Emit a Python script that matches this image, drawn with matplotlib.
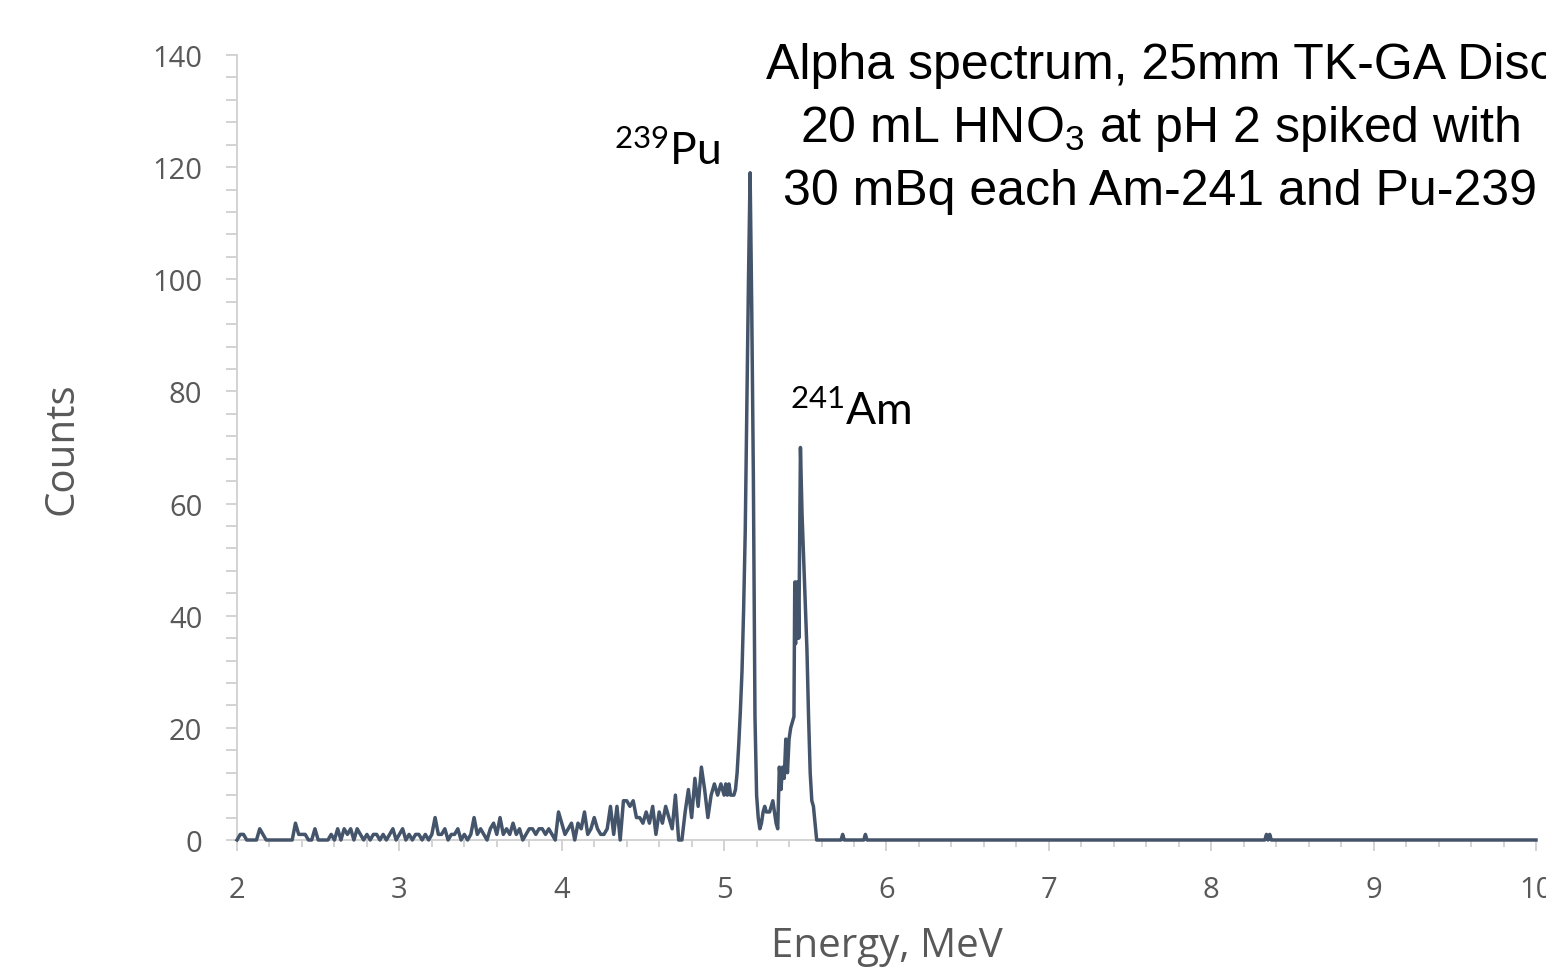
import numpy as np
import matplotlib
matplotlib.use("Agg")
import matplotlib.pyplot as plt
from matplotlib.ticker import MultipleLocator

plt.rcParams['mathtext.default'] = 'regular'

# ---- data ----
# low-energy continuum, channels every 0.02 MeV from 2.00 to 4.98
energy_low = np.round(np.arange(2.00, 4.99, 0.02), 2)
counts_2_3 = [0, 1, 1, 0, 0, 0, 0, 2, 1, 0, 0, 0, 0, 0, 0, 0, 0, 0, 3, 1,
              1, 1, 0, 0, 2, 0, 0, 0, 0, 1, 0, 2, 0, 2, 1, 2, 0, 2, 1, 0,
              1, 0, 1, 1, 0, 1, 0, 1, 2, 0]
counts_3_4 = [1, 2, 0, 1, 0, 1, 1, 0, 1, 0, 1, 4, 1, 1, 2, 0, 1, 1, 2, 0,
              1, 0, 1, 4, 1, 2, 1, 0, 2, 3, 1, 4, 1, 2, 1, 3, 1, 2, 0, 1,
              2, 2, 1, 2, 2, 1, 2, 1, 0, 5]
counts_4_5 = [3, 1, 2, 3, 0, 3, 2, 5, 1, 2, 4, 2, 1, 1, 2, 6, 1, 6, 0, 7,
              7, 6, 7, 4, 4, 3, 5, 3, 6, 1, 5, 3, 6, 4, 2, 8, 0, 0, 5, 9,
              4, 11, 6, 13, 9, 4, 8, 10, 8, 10]

# peak region (finer channels)
energy_peak = [5.00, 5.01, 5.02, 5.03, 5.04, 5.05, 5.06, 5.07, 5.08, 5.09,
               5.10, 5.11, 5.12, 5.13, 5.14, 5.15, 5.16, 5.17, 5.18, 5.19,
               5.20, 5.21, 5.22, 5.23, 5.24, 5.25, 5.26, 5.27, 5.28, 5.29,
               5.30, 5.31, 5.32, 5.33, 5.34, 5.35, 5.36, 5.37, 5.38, 5.39,
               5.40, 5.41, 5.42, 5.43, 5.435, 5.44, 5.445, 5.45, 5.455, 5.46,
               5.47, 5.48, 5.49, 5.50, 5.51, 5.52, 5.53, 5.54, 5.55, 5.56, 5.57]
counts_peak = [8, 10, 8, 10, 8, 8, 8, 9, 12, 17,
               23, 30, 41, 55, 77, 100, 119, 95, 65, 22,
               8, 4, 2, 3, 5, 6, 5, 5, 5, 6,
               7, 5, 3, 2, 13, 9, 13, 11, 18, 12,
               18, 20, 21, 22, 46, 35, 46, 36, 46, 36,
               70, 58, 50, 42, 34, 22, 12, 7, 6, 3, 0]

# high-energy tail
energy_high = [5.72, 5.73, 5.74, 5.86, 5.87, 5.88, 8.33, 8.34, 8.35, 8.36, 8.37, 10.0]
counts_high = [0, 1, 0, 0, 1, 0, 0, 1, 0, 1, 0, 0]

x_ticks = [2, 3, 4, 5, 6, 7, 8, 9, 10]
y_ticks = [0, 20, 40, 60, 80, 100, 120, 140]

title_lines = ["Alpha spectrum, 25mm TK-GA Disc",
               r"20 mL HNO$_\mathregular{3}$ at pH 2 spiked with",
               "30 mBq each Am-241 and Pu-239"]

energy = np.concatenate([energy_low, energy_peak, energy_high])
counts = np.concatenate([counts_2_3, counts_3_4, counts_4_5, counts_peak, counts_high])

# ---- plot ----
W, H = 1546, 970
fig = plt.figure(figsize=(W / 100, H / 100), dpi=100)
ax = fig.add_axes([237 / W, 1 - 841 / H, (1536 - 237) / W, (841 - 56) / H])

gray = '#595959'
light = '#d0d0d0'
ax.plot(energy, counts, color='#44546a', lw=2.5, solid_joinstyle='round', zorder=3,
        clip_on=False)

ax.set_xlim(2, 10)
ax.set_ylim(0, 140)
ax.set_xticks(x_ticks)
ax.set_yticks(y_ticks)
ax.xaxis.set_minor_locator(MultipleLocator(0.2))
ax.yaxis.set_minor_locator(MultipleLocator(4))

for s in ['top', 'right']:
    ax.spines[s].set_visible(False)
for s in ['left', 'bottom']:
    ax.spines[s].set_color(light)
    ax.spines[s].set_linewidth(1.3)

ax.tick_params(axis='both', which='both', color=light, width=1.3, direction='out')
ax.tick_params(axis='x', which='major', length=8, pad=17, labelsize=21, labelcolor=gray)
ax.tick_params(axis='x', which='minor', length=5)
ax.tick_params(axis='y', which='major', length=8, pad=17, labelsize=21, labelcolor=gray)
ax.tick_params(axis='y', which='minor', length=8)
for lab in ax.get_xticklabels() + ax.get_yticklabels():
    lab.set_fontfamily('Open Sans')

ax.set_xlabel('Energy, MeV', fontsize=29, color=gray, family='Open Sans', labelpad=16)
ax.set_ylabel('Counts', fontsize=29, color=gray, family='Open Sans', labelpad=50)

# title block (black, centred)
for i, line in enumerate(title_lines):
    fig.text(1160 / W, 1 - (66 + i * 63) / H, line, ha='center', va='center',
             fontsize=36, color='black', family='Liberation Sans')

# isotope labels
ax.text(4.974, 120.5, r'$^{\mathregular{239}}$Pu', ha='right', va='baseline', fontsize=32,
        color='black', family='Lato')
ax.text(5.405, 74.2, r'$^{\mathregular{241}}$Am', ha='left', va='baseline', fontsize=32,
        color='black', family='Lato')

fig.savefig('out.png', dpi=100)
